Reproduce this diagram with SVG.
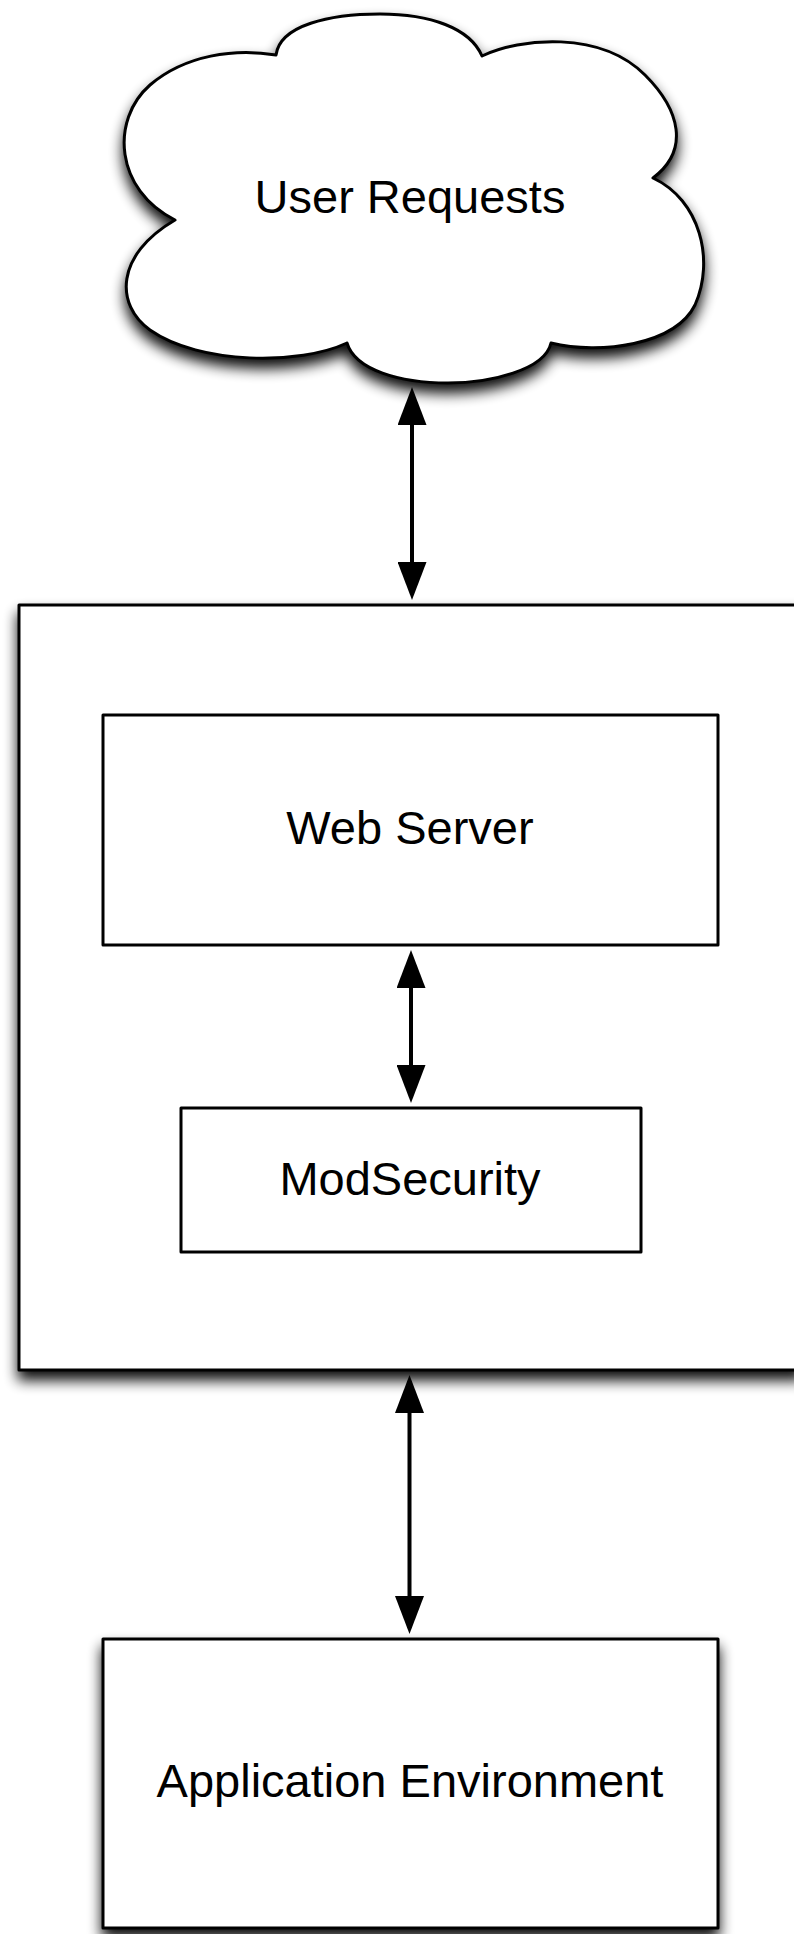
<svg xmlns="http://www.w3.org/2000/svg" width="794" height="1934" viewBox="0 0 794 1934">
<style>
.shape{fill:#fff;stroke:#000;stroke-width:3;stroke-linejoin:round}
.lbl{font-family:"Liberation Sans",Helvetica,Arial,sans-serif;font-size:47px;fill:#000;text-anchor:middle}
.conn{stroke:#000;stroke-width:4;fill:none;marker-start:url(#ah);marker-end:url(#ah)}
</style>
<defs>
<filter id="sh" x="-10%" y="-10%" width="120%" height="130%">
<feGaussianBlur in="SourceAlpha" stdDeviation="7"/>
<feOffset dx="0" dy="9" result="b"/>
<feComponentTransfer><feFuncA type="linear" slope="0.95"/></feComponentTransfer>
<feMerge><feMergeNode/><feMergeNode in="SourceGraphic"/></feMerge>
</filter>
<marker id="ah" viewBox="0 0 38 29" markerWidth="38" markerHeight="29" refX="32" refY="14.5" orient="auto-start-reverse" markerUnits="userSpaceOnUse">
<path d="M0,0 L38,14.5 L0,29 Z" fill="#000"/>
</marker>
</defs>
<g id="user-requests">
<path class="shape" filter="url(#sh)" d="M276,55 C280,25 330,14 380,14 C430,14 470,28 482,56 C520,38 600,30 645,75 C680,110 690,150 653,178 C700,200 715,260 695,305 C675,345 600,355 551,343 C545,370 490,383 448,383 C400,383 355,370 347,343 C300,365 200,365 150,330 C115,305 115,255 175,220 C115,190 110,120 150,85 C185,55 235,48 276,55 Z"/>
<text class="lbl" x="410" y="213">User Requests</text>
</g>
<g id="server-container">
<rect class="shape" filter="url(#sh)" x="19" y="605" width="783" height="765"/>
</g>
<g id="web-server">
<rect class="shape" x="103" y="715" width="615" height="230"/>
<text class="lbl" x="410" y="844">Web Server</text>
</g>
<g id="modsecurity">
<rect class="shape" x="181" y="1108" width="460" height="144"/>
<text class="lbl" x="410" y="1195">ModSecurity</text>
</g>
<g id="application-environment">
<rect class="shape" filter="url(#sh)" x="103" y="1639" width="615" height="289"/>
<text class="lbl" x="410" y="1797">Application Environment</text>
</g>
<g id="connectors">
<line class="conn" x1="412" y1="393" x2="412" y2="594"/>
<line class="conn" x1="411" y1="956" x2="411" y2="1097"/>
<line class="conn" x1="409.5" y1="1381" x2="409.5" y2="1628"/>
</g>
</svg>
